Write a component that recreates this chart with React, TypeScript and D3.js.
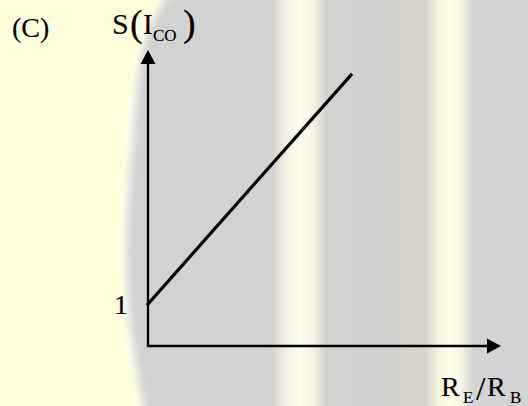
import React from "react";
import * as d3 from "d3";

// S(I_CO) versus R_E/R_B: a straight line starting at S = 1
const ratio = [0, 5.75];
const stability = [1, 6.45];
const yTicks = [1];
const yTickLabels = ["1"];

const W = 528;
const H = 406;

export default function App() {
  const x = d3.scaleLinear().domain([0, 10]).range([148, 501]);
  const y = d3.scaleLinear().domain([0, 7]).range([346, 52]);

  const pts: [number, number][] = ratio.map((r, i) => [r, stability[i]]);
  const line = d3
    .line<[number, number]>()
    .x((d) => x(d[0]))
    .y((d) => y(d[1]));

  const x0 = x(0);
  const y0 = y(0);
  const yTop = 50;
  const xEnd = 501;

  const edgePts: [number, number][] = [
    [168, -10],
    [150, 15],
    [136, 55],
    [129, 150],
    [121, 250],
    [127, 330],
    [135, 380],
    [142, 416],
  ];
  const edge = d3.line<[number, number]>().curve(d3.curveBasis)(edgePts)!;
  const yellowPath = `M0,-10 L168,-10 ${edge.replace(/^M[^C]*/, "")} L0,416 Z`;

  const stops: [number, string][] = [
    [0, "#d2d2d4"],
    [262, "#d3d2d2"],
    [274, "#d8d5cd"],
    [285, "#f1efdf"],
    [300, "#fffff0"],
    [314, "#f3f1e2"],
    [326, "#d4d2d0"],
    [392, "#d1d0cf"],
    [406, "#d6d3ca"],
    [426, "#d8d6cb"],
    [438, "#f4f3e0"],
    [450, "#ffffea"],
    [462, "#f4f3e1"],
    [474, "#d4d3d4"],
    [528, "#d3d3d6"],
  ];

  const serif = "'Liberation Serif', 'Times New Roman', 'DejaVu Serif', serif";

  return (
    <svg
      width={W}
      height={H}
      viewBox={`0 0 ${W} ${H}`}
      style={{ position: "absolute", left: 0, top: 0, display: "block" }}
      fontFamily={serif}
    >
      <defs>
        <linearGradient id="bands" x1="0" x2={W} y1="0" y2="0" gradientUnits="userSpaceOnUse">
          {stops.map(([o, c], i) => (
            <stop key={i} offset={o / W} stopColor={c} />
          ))}
        </linearGradient>
        <filter id="soft" x="-20%" y="-5%" width="140%" height="110%">
          <feGaussianBlur stdDeviation="3" />
        </filter>
        <filter id="halo" x="-20%" y="-5%" width="140%" height="110%">
          <feGaussianBlur stdDeviation="4" />
        </filter>
      </defs>

      {/* backdrop */}
      <rect x={0} y={0} width={W} height={H} fill="url(#bands)" />
      <path d={yellowPath} fill="#fefde8" stroke="#fffff2" strokeWidth={6} filter="url(#halo)" />
      <path d={yellowPath} fill="#ffffdc" transform="translate(-5,0)" filter="url(#soft)" />

      {/* axes with arrowheads */}
      <line x1={x0} y1={y0} x2={x0} y2={yTop + 12} stroke="#000" strokeWidth={2.3} />
      <line x1={x0 - 1.15} y1={y0} x2={xEnd - 12} y2={y0} stroke="#000" strokeWidth={2.3} />
      <path d={`M${x0},${yTop} L${x0 - 7.5},${yTop + 14} L${x0 + 7.5},${yTop + 14} Z`} fill="#000" />
      <path d={`M${xEnd},${y0} L${xEnd - 14},${y0 - 7.5} L${xEnd - 14},${y0 + 7.5} Z`} fill="#000" />

      {/* characteristic */}
      <path d={line(pts)!} fill="none" stroke="#000" strokeWidth={3.2} strokeLinecap="square" />

      <g fill="#000" stroke="#000" strokeWidth={0.15}>
        {/* tick label */}
        {yTicks.map((t, i) => (
          <text key={t} x={128} y={y(t) + 10} textAnchor="end" fontSize={28}>
            {yTickLabels[i]}
          </text>
        ))}

        {/* panel tag */}
        <text x={12} y={37} fontSize={28}>(C)</text>

        {/* y-axis title: S(I_CO) */}
        <text x={112} y={34} fontSize={30}>S</text>
        <text x={130} y={36} fontSize={38}>(</text>
        <text x={143} y={34} fontSize={29}>I</text>
        <text x={153} y={41} fontSize={17}>CO</text>
        <text x={183} y={36} fontSize={38}>)</text>

        {/* x-axis title: R_E/R_B */}
        <text x={441} y={396} fontSize={28}>R</text>
        <text x={463} y={403} fontSize={17}>E</text>
        <text x={476} y={400} fontSize={34}>/</text>
        <text x={487} y={396} fontSize={28}>R</text>
        <text x={510} y={403} fontSize={17}>B</text>
      </g>
    </svg>
  );
}
